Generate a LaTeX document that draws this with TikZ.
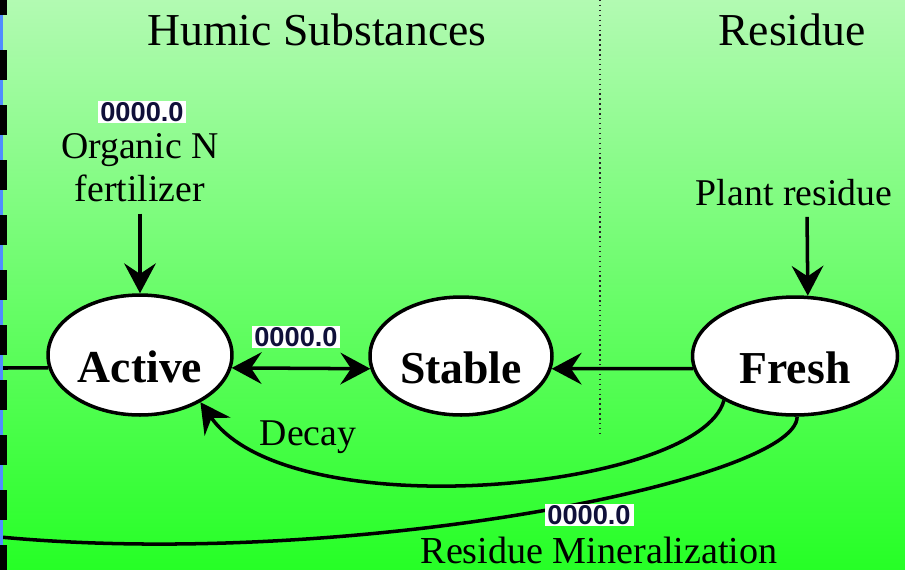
\documentclass[tikz,border=0pt]{standalone}
\usepackage{fontspec}
\setmainfont{Liberation Serif}
\newfontfamily\numfont{Liberation Sans}
\usetikzlibrary{shapes.geometric, arrows.meta, positioning}
\definecolor{soiltop}{RGB}{178,250,178}
\definecolor{soilmid}{RGB}{108,246,108}
\definecolor{soilbot}{RGB}{38,255,38}
\definecolor{numink}{RGB}{16,16,58}
\definecolor{edgeblue}{RGB}{80,140,255}

\begin{document}
\begin{tikzpicture}[x=0.02cm, y=-0.02cm,
  pool/.style={ellipse, draw=black, line width=2pt, fill=white, inner sep=0pt, text height=1.08cm, text depth=0pt, font=\fontsize{26}{30}\selectfont\bfseries},
  arr/.style={-{Stealth[length=17pt, width=18pt, inset=6pt]}, line width=2pt},
  arrboth/.style={{Stealth[length=17pt, width=18pt, inset=6pt]}-{Stealth[length=17pt, width=18pt, inset=6pt]}, line width=2pt},
  flow/.style={line width=2pt},
  numbox/.style={fill=white, inner sep=0pt, minimum width=1.78cm, minimum height=0.44cm, font=\numfont\bfseries\fontsize{15.5}{17}\selectfont, text=numink},
  head/.style={font=\fontsize{26}{30}\selectfont, anchor=base},
  lbl/.style={font=\fontsize{21.5}{24.4}\selectfont, anchor=base},
]
  % background
  \useasboundingbox (0,0) rectangle (905,569);
  \shade[top color=soiltop, middle color=soilmid, bottom color=soilbot] (0,0) rectangle (905,569);
  \draw[dotted, line width=0.8pt, black!85] (600,0) -- (600,435);

  \node[head] (humic) at (317,45) {Humic Substances};
  \node[head] (resid) at (792,45) {Residue};

  % pools
  \node[pool, minimum width=3.68cm, minimum height=2.4cm] (act) at (140,355) {Active};
  \node[pool, minimum width=3.64cm, minimum height=2.36cm] (stab) at (461,356) {Stable};
  \node[pool, minimum width=4.1cm, minimum height=2.36cm] (fresh) at (795,356) {Fresh};

  \node[font=\fontsize{21.5}{24.4}\selectfont, align=center] (orgn) at (140,168) {Organic N\\fertilizer};
  \node[lbl] (plant) at (794,205) {Plant residue};
  \node[lbl] (decay) at (308,445) {Decay};
  \node[lbl, font=\fontsize{21.7}{24.4}\selectfont] (miner) at (599,563) {Residue Mineralization};

  \coordinate (nin) at (0,368);
  \coordinate (nout) at (0,537);

  \draw[arr, shorten <=3pt] (orgn) -- (act);
  \draw[arr, shorten <=3pt] ([xshift=0.26cm]plant.south) -- (fresh.78);
  \draw[arrboth] (act.-8) -- (stab.188);
  \draw[arr] (fresh.187) -- (stab.-8);
  \draw[flow] (nin) -- (act.188);
  \draw[arr] (fresh.-148) .. controls (700,490) and (290,530) .. (act.-38);
  \draw[flow] (fresh.-88) .. controls (797,480) and (350,570) .. (nout);

  \node[numbox] (num1) at (142,112) {0000.0};
  \node[numbox] (num2) at (296,337) {0000.0};
  \node[numbox] (num3) at (589,515) {0000.0};

  % left edge
  \draw[edgeblue, line width=1.7pt] (1.5,0) -- (1.5,569);
  \foreach \y in {-15,50,105,160,215,270,325,380,435,490,545}
    \fill (0,\y) rectangle (7,\y+30);
\end{tikzpicture}
\end{document}
